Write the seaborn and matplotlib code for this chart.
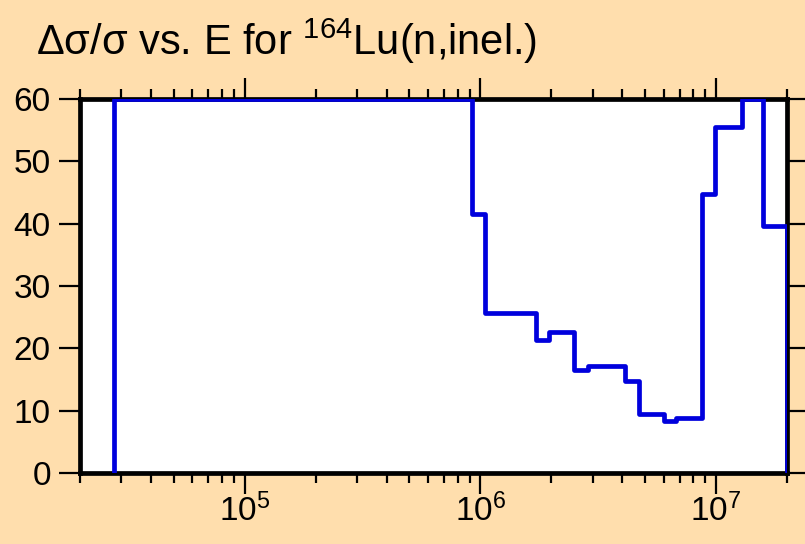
import matplotlib
matplotlib.use("Agg")
import matplotlib.pyplot as plt
import matplotlib.ticker as mticker
import seaborn as sns
import pandas as pd

# Step data (energy in eV, relative uncertainty in %), steps-post
energy = [2.8e4, 2.8e4, 9.2e5, 1.05e6, 1.72e6, 1.96e6, 2.5e6, 2.85e6,
          4.12e6, 4.69e6, 6.03e6, 6.79e6, 8.75e6, 9.9e6, 1.29e7, 1.58e7,
          2.0e7, 2.0e7]
uncert = [0, 60, 41.6, 25.7, 21.4, 22.6, 16.5, 17.1,
          14.8, 9.4, 8.4, 8.8, 44.8, 55.5, 60, 39.6,
          39.6, 0]
y_ticks = [0, 10, 20, 30, 40, 50, 60]
title = r"$\Delta\sigma/\sigma$ vs. E for $^{164}$Lu(n,inel.)"

sns.set_style("white")
plt.rcParams["font.family"] = ["Liberation Sans", "DejaVu Sans"]
plt.rcParams["mathtext.fontset"] = "custom"
plt.rcParams["mathtext.rm"] = "Liberation Sans"
plt.rcParams["mathtext.it"] = "Liberation Sans"
plt.rcParams["mathtext.sf"] = "Liberation Sans"
plt.rcParams["mathtext.default"] = "regular"
plt.rcParams["text.color"] = "black"
plt.rcParams["xtick.color"] = "black"
plt.rcParams["ytick.color"] = "black"
plt.rcParams["xtick.labelcolor"] = "black"
plt.rcParams["ytick.labelcolor"] = "black"

bg = "#FFDEAD"
fig = plt.figure(figsize=(8.05, 5.44), dpi=100, facecolor=bg)
ax = fig.add_axes([80 / 805, 1 - 473 / 544, (787 - 80) / 805, (473 - 99) / 544])
ax.set_facecolor("white")

df = pd.DataFrame({"E": energy, "u": uncert})
sns.lineplot(data=df, x="E", y="u", sort=False, estimator=None,
             drawstyle="steps-post", color="#0000DD", linewidth=3.4,
             ax=ax, zorder=3)

ax.set_xscale("log")
ax.set_xlim(2e4, 2e7)
ax.set_ylim(0, 60)
ax.set_yticks(y_ticks)
ax.xaxis.set_major_locator(mticker.LogLocator(base=10))
ax.xaxis.set_minor_locator(mticker.LogLocator(base=10, subs=range(2, 10)))
ax.xaxis.set_minor_formatter(mticker.NullFormatter())
ax.set_xlabel("")
ax.set_ylabel("")

for s in ax.spines.values():
    s.set_visible(True)
    s.set_linewidth(3.4)
    s.set_color("black")

ax.tick_params(which="major", direction="out", length=15, width=1.6,
               color="black", labelsize=24, top=True, right=True,
               bottom=True, left=True, labelcolor="black")
ax.tick_params(which="minor", direction="out", length=7.5, width=1.6,
               color="black", top=True, bottom=True)
ax.tick_params(axis="y", which="major", pad=6)
ax.tick_params(axis="x", which="major", pad=0)

fig.text(36 / 805, 1 - 55 / 544, title, fontsize=30, ha="left",
         va="baseline", color="black")

fig.savefig("out.png", dpi=100, facecolor=bg)
